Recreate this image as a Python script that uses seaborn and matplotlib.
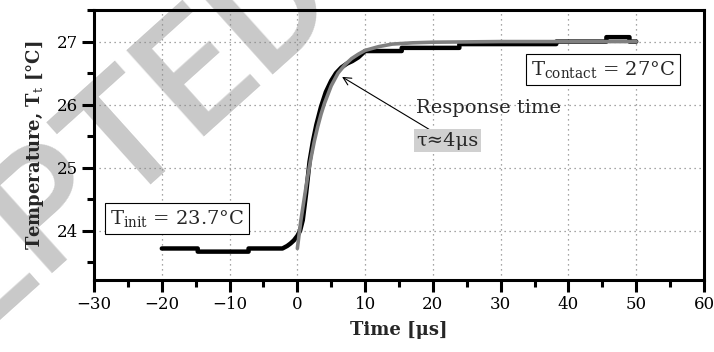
import matplotlib
matplotlib.use("Agg")
import matplotlib.pyplot as plt
import seaborn as sns
import pandas as pd
from matplotlib.ticker import MultipleLocator

# measured temperature (black)
meas_t = [-20, -14.7, -14.7, -7.2, -7.2, -2.2, -1.5, -1.0, -0.5, 0.0, 0.4, 0.8,
          1.3, 1.8, 2.3, 2.8, 3.5, 4.2, 5.0, 5.7, 6.5, 7.3, 8.1, 9.0, 10.0,
          15.4, 15.4, 23.9, 23.9, 38.2, 38.2, 45.6, 45.6, 49.0, 49.0, 50.0]
meas_T = [23.72, 23.72, 23.67, 23.67, 23.72, 23.72, 23.76, 23.80, 23.85, 23.92,
          24.00, 24.17, 24.60, 25.10, 25.42, 25.68, 25.97, 26.20, 26.38, 26.50,
          26.59, 26.65, 26.69, 26.75, 26.85, 26.85, 26.90, 26.90, 26.96, 26.96,
          27.00, 27.00, 27.07, 27.07, 27.00, 27.00]

# fitted response curve (gray)
fit_t = [0, 0.5, 1, 1.5, 2, 2.5, 3, 3.5, 4, 5, 6, 7, 8, 9, 10, 12, 14, 17, 20, 30, 50]
fit_T = [23.72, 24.15, 24.50, 24.85, 25.15, 25.42, 25.65, 25.85, 26.02, 26.30,
         26.50, 26.63, 26.73, 26.80, 26.86, 26.92, 26.96, 26.98, 26.99, 27.00, 27.00]

x_ticks = [-30, -20, -10, 0, 10, 20, 30, 40, 50, 60]
y_ticks = [24, 25, 26, 27]

sns.set_theme(style="white")
plt.rcParams['font.family'] = ['DejaVu Serif']
plt.rcParams['mathtext.fontset'] = 'dejavuserif'

fig = plt.figure(figsize=(7.14, 3.52), dpi=100)
ax = fig.add_axes([0.1317, 0.2045, 0.8543, 0.767])
ax.patch.set_alpha(0)

# watermark (partly outside the page, as in the reference)
fig.text(0.014, 0.29, "ACCEPTED", rotation=42, fontsize=118, fontweight='medium',
         family=['Roboto', 'DejaVu Sans'], color='#c9c9c9', ha='center', va='center',
         zorder=-5, rotation_mode='anchor')

df_m = pd.DataFrame({"t": meas_t, "T": meas_T})
df_f = pd.DataFrame({"t": fit_t, "T": fit_T})
sns.lineplot(data=df_m, x="t", y="T", ax=ax, color="black", linewidth=3.2,
             estimator=None, sort=False, zorder=3)
sns.lineplot(data=df_f, x="t", y="T", ax=ax, color="#808080", linewidth=2.6,
             estimator=None, sort=False, zorder=4)

ax.set_xlim(-30, 60)
ax.set_ylim(23.22, 27.5)
ax.set_xticks(x_ticks)
ax.set_yticks(y_ticks)
ax.set_xticklabels([str(v).replace('-', '\u2212') for v in x_ticks])
ax.xaxis.set_minor_locator(MultipleLocator(5))
ax.yaxis.set_minor_locator(MultipleLocator(0.5))
ax.tick_params(which='major', direction='out', length=8.5, width=2.2, labelsize=12,
               pad=3, color='black', labelcolor='black', bottom=True, left=True)
ax.tick_params(which='minor', direction='out', length=5, width=2.2,
               bottom=True, left=True, color='black')
for s in ax.spines.values():
    s.set_visible(True)
    s.set_linewidth(2.2)
    s.set_color('black')
ax.grid(True, which='major', linestyle=(0, (1, 3)), color='#888888', linewidth=0.9)
ax.set_axisbelow(True)

ax.set_xlabel("Time [μs]", fontsize=13, fontweight='bold', labelpad=6)
ax.set_ylabel(r"Temperature, T$_\mathrm{t}$ [°C]", fontsize=13, fontweight='bold', labelpad=8)

box = dict(boxstyle='square,pad=0.25', facecolor='white', edgecolor='black', linewidth=0.8)
ax.text(-17.7, 24.19, r"T$_\mathrm{init}$ = 23.7°C", fontsize=14, ha='center', va='center',
        bbox=box, zorder=6)
ax.text(45.1, 26.56, r"T$_\mathrm{contact}$ = 27°C", fontsize=14, ha='center', va='center',
        bbox=box, zorder=6)
ax.text(28.2, 25.94, "Response time", fontsize=14, ha='center', va='center', zorder=6)
ax.annotate("τ≈4μs", xy=(6.6, 26.44), xytext=(22.2, 25.43), fontsize=14,
            ha='center', va='center', zorder=6,
            bbox=dict(boxstyle='square,pad=0.12', facecolor='#d0d0d0', edgecolor='none'),
            arrowprops=dict(arrowstyle='->', color='black', linewidth=0.8,
                            shrinkA=0, shrinkB=0))

fig.savefig("out.png", dpi=100)
